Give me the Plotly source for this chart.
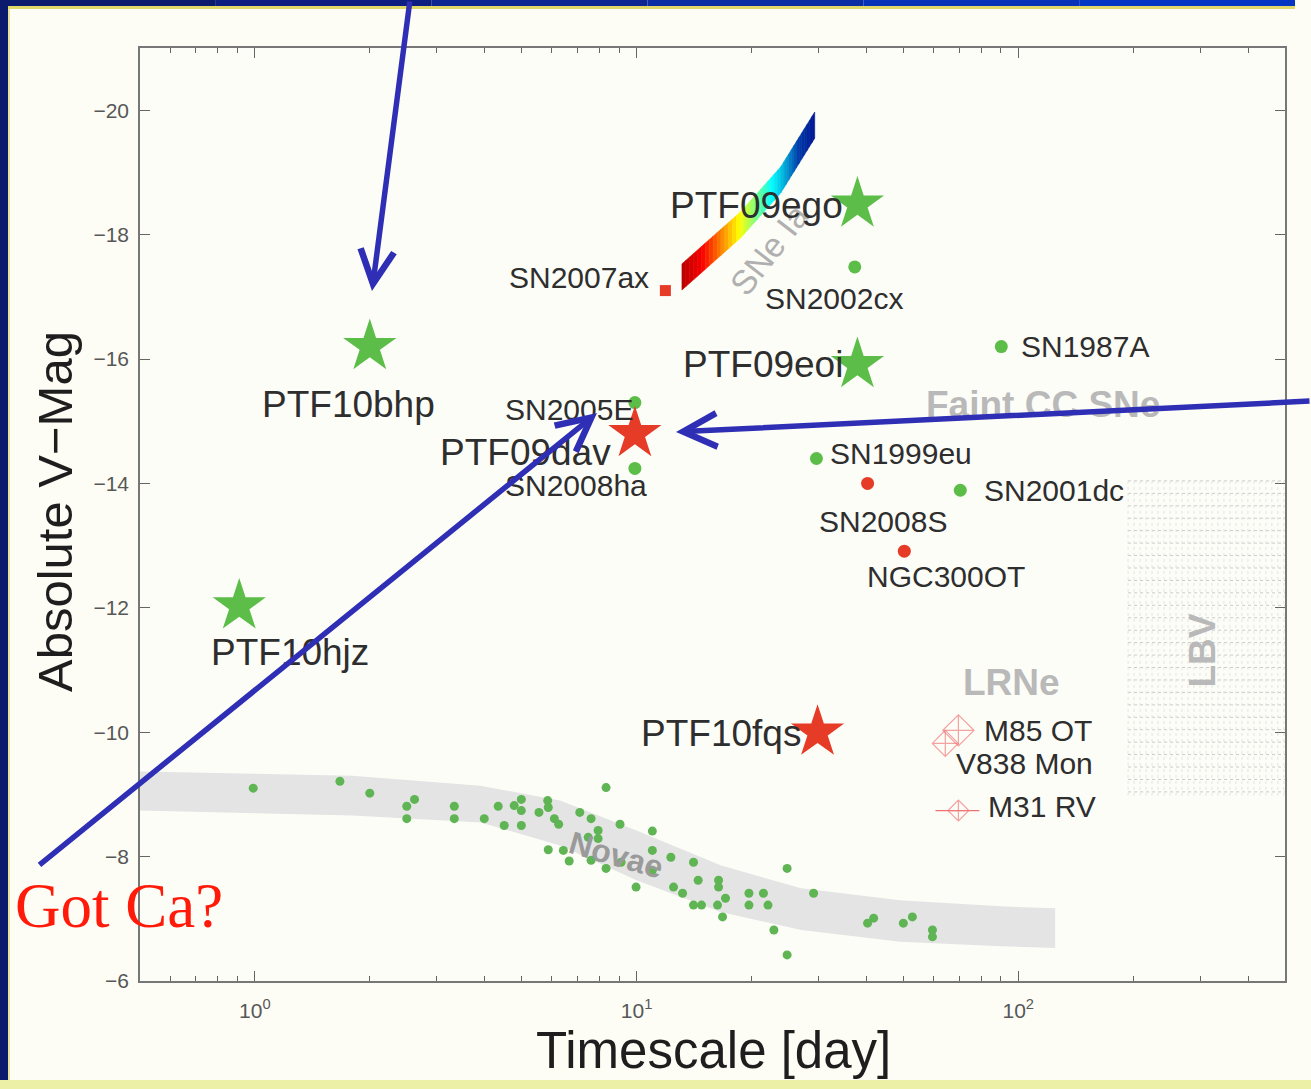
import numpy as np
import plotly.graph_objects as go
from plotly.colors import sample_colorscale

W, H = 1311, 1089
FONT = "Liberation Sans, Arial, Helvetica, sans-serif"

# ---------------- data ----------------
x_range_days = [0.5, 500]
y_range_mag = [-6, -21]
x_major_ticks = [1, 10, 100]
x_major_text = ["10<sup>0</sup>", "10<sup>1</sup>", "10<sup>2</sup>"]
x_minor_ticks = [0.6, 0.7, 0.8, 0.9, 2, 3, 4, 5, 6, 7, 8, 9,
                 20, 30, 40, 50, 60, 70, 80, 90, 200, 300, 400]
y_ticks = [-20, -18, -16, -14, -12, -10, -8, -6]

# novae (green dots)
nova_days = [0.99, 1.67, 2.00, 2.62, 2.50, 2.50, 3.33, 3.33, 3.99, 4.34, 4.50,
             4.78, 4.99, 4.99, 4.99, 5.55, 5.85, 5.87, 6.09, 6.25, 5.87, 6.43,
             6.66, 7.10, 7.60, 7.93, 7.47, 7.93, 9.05, 8.32, 7.60, 8.32, 9.11,
             11.0, 11.0, 11.0, 9.97, 12.3, 12.5, 13.2, 14.1, 14.5, 16.4, 16.4,
             17.1, 14.1, 14.8, 16.3, 16.8, 19.7, 21.5, 19.7, 22.1, 22.9, 24.8,
             24.8, 29.1, 40.3, 41.8, 50.0, 52.8, 59.6, 59.6]
nova_mags = [-9.10, -9.21, -9.02, -8.92, -8.81, -8.61, -8.81, -8.61, -8.61, -8.81, -8.50,
             -8.82, -8.92, -8.74, -8.50, -8.71, -8.90, -8.79, -8.61, -8.52, -8.11, -8.10,
             -7.93, -8.71, -8.61, -8.42, -8.31, -8.29, -8.52, -9.11, -7.94, -7.81, -7.91,
             -8.41, -8.10, -7.78, -7.51, -7.99, -7.51, -7.41, -7.91, -7.62, -7.62, -7.51,
             -7.33, -7.22, -7.22, -7.22, -7.03, -7.41, -7.41, -7.22, -7.22, -6.82, -7.81,
             -6.42, -7.41, -6.93, -7.01, -6.93, -7.03, -6.82, -6.71]

# novae envelope (grey band)
band_days = [0.5, 1.8, 3.9, 6.3, 10, 16.6, 27, 49, 90, 125]
band_bright = [-9.37, -9.30, -9.14, -8.90, -8.42, -7.86, -7.49, -7.30, -7.20, -7.17]
band_faint = [-8.74, -8.66, -8.55, -8.18, -7.62, -7.11, -6.82, -6.63, -6.56, -6.53]

# SNe Ia locus (rainbow strip), centre line
ia_days = [13.15, 18.76, 23.87, 29.29]
ia_mags = [-17.32, -18.16, -18.88, -19.76]
ia_half_width = 0.21

# PTF stars
green_star_names = ["PTF10bhp", "PTF10hjz", "PTF09ego", "PTF09eoi"]
green_star_days = [2.0, 0.91, 37.9, 37.9]
green_star_mags = [-16.2, -12.03, -18.49, -15.91]

red_star_names = ["PTF09dav", "PTF10fqs"]
red_star_days = [9.9, 29.8]
red_star_mags = [-14.8, -10.0]

# comparison objects
green_dot_names = ["SN2002cx", "SN2005E", "SN2008ha", "SN1987A", "SN1999eu", "SN2001dc"]
green_dot_days = [37.3, 9.9, 9.9, 90.3, 29.6, 70.5]
green_dot_mags = [-17.48, -15.30, -14.24, -16.2, -14.40, -13.89]

red_dot_names = ["SN2008S", "NGC300OT"]
red_dot_days = [40.3, 50.3]
red_dot_mags = [-14.0, -12.91]

square_names = ["SN2007ax"]
square_days = [11.9]
square_mags = [-17.1]

lrn_names = ["M85 OT", "V838 Mon", "M31 RV"]
lrn_days = [69.7, 64.4, 69.7]
lrn_mags = [-10.03, -9.82, -8.74]
lrn_err_lo = [0, 0, 9.0]
lrn_err_hi = [0, 0, 9.4]

# LBV region
lbv_days = [194, 500]
lbv_mags = [-14.04, -8.98]

# class labels: text, day, mag
class_labels = [
    ("SNe Ia", 22.2, -17.76),
    ("Faint CC SNe", 116, -15.27),
    ("LRNe", 95.9, -10.8),
    ("LBV", 304.6, -11.31),
    ("Novae", 8.84, -8.02),
]

# ---------------- styles ----------------
GREEN = "#5cbd49"
NOVA_GREEN = "#5fb453"
RED = "#e63b27"
TEXT = "#2e2e2e"
GREY_TXT = "#b9b9b9"
BG = "#fdfdf6"
BLUE = "#2f2fb5"

# label placement: name -> (xanchor, xshift px, yshift px, font size)
label_pos = {
    "PTF10bhp": ("center", -21, -58, 37),
    "PTF10hjz": ("center", 51, -47, 37),
    "PTF09ego": ("right", -12, -1, 37),
    "PTF09eoi": ("right", -12, 0, 37),
    "PTF09dav": ("right", -22, -19, 37),
    "PTF10fqs": ("right", -15, -1, 37),
    "SN2007ax": ("right", -14, 13, 30),
    "SN2002cx": ("center", -21, -32, 30),
    "SN2005E": ("right", 0, -7, 30),
    "SN2008ha": ("center", -59, -17, 30),
    "SN1987A": ("left", 18, 0, 30),
    "SN1999eu": ("left", 12, 5, 30),
    "SN2008S": ("center", 15, -38, 30),
    "SN2001dc": ("left", 22, 0, 30),
    "NGC300OT": ("center", 42, -25, 30),
    "M85 OT": ("left", 24, 0, 30),
    "V838 Mon": ("left", 9, -20, 30),
    "M31 RV": ("left", 28, 4, 30),
}
# class label styles: text -> (size, angle, color, bold)
class_style = {
    "SNe Ia": (34, -52, "#b0b0b0", False),
    "Faint CC SNe": (37, 0, GREY_TXT, True),
    "LRNe": (37, 0, GREY_TXT, True),
    "LBV": (37, -90, GREY_TXT, True),
    "Novae": (32, 16, "#9a9a9a", True),
}

fig = go.Figure()
lg = np.log10

# novae band
fig.add_trace(go.Scatter(
    x=band_days + band_days[::-1], y=band_bright + band_faint[::-1],
    fill="toself", fillcolor="#e4e4e4", line=dict(width=0), mode="lines",
    hoverinfo="skip"))

# LBV hatched region
lx0, lx1 = lg(lbv_days[0]), lg(lbv_days[1])
hx, hy = [], []
for m in np.arange(lbv_mags[0], lbv_mags[1] + 1e-6, 0.2):
    hx += [lbv_days[0], lbv_days[1], None]
    hy += [m, m, None]
fig.add_trace(go.Scatter(x=hx, y=hy, mode="lines", hoverinfo="skip",
                         line=dict(color="#c9c9c9", width=1, dash="dot")))
vx, vy = [], []
for lv in np.arange(lx0, lx1, 0.0157):
    vx += [10 ** lv, 10 ** lv, None]
    vy += [lbv_mags[0], lbv_mags[1], None]
fig.add_trace(go.Scatter(x=vx, y=vy, mode="lines", hoverinfo="skip",
                         line=dict(color="#e2e2e2", width=1, dash="dot")))

# SNe Ia rainbow strip
lx = lg(np.array(ia_days))
my = np.array(ia_mags)
seg_len = np.hypot(np.diff(lx), np.diff(my) / 5)
cum = np.concatenate([[0], np.cumsum(seg_len)])
N = 40
ts = np.linspace(0, cum[-1], N + 1)
px_ = np.interp(ts, cum, lx)
py_ = np.interp(ts, cum, my)
cols = sample_colorscale("Jet", list(np.linspace(0.9, 0.08, N)))
for i in range(N):
    xs = [10 ** px_[i], 10 ** px_[i + 1], 10 ** px_[i + 1], 10 ** px_[i], 10 ** px_[i]]
    ys = [py_[i] - ia_half_width, py_[i + 1] - ia_half_width,
          py_[i + 1] + ia_half_width, py_[i] + ia_half_width, py_[i] - ia_half_width]
    fig.add_trace(go.Scatter(x=xs, y=ys, fill="toself", fillcolor=cols[i],
                             line=dict(width=0.6, color=cols[i]), mode="lines",
                             hoverinfo="skip"))

# novae points
fig.add_trace(go.Scatter(x=nova_days, y=nova_mags, mode="markers",
                         marker=dict(color=NOVA_GREEN, size=9, line=dict(width=0))))

# comparison objects
fig.add_trace(go.Scatter(x=green_dot_days, y=green_dot_mags, mode="markers",
                         marker=dict(color=GREEN, size=13, line=dict(width=0))))
fig.add_trace(go.Scatter(x=red_dot_days, y=red_dot_mags, mode="markers",
                         marker=dict(color=RED, size=13, line=dict(width=0))))
fig.add_trace(go.Scatter(x=square_days, y=square_mags, mode="markers",
                         marker=dict(color=RED, size=11, symbol="square", line=dict(width=0))))
fig.add_trace(go.Scatter(
    x=lrn_days, y=lrn_mags, mode="markers",
    error_x=dict(type="data", symmetric=False, array=lrn_err_hi, arrayminus=lrn_err_lo,
                 color="#ee7070", thickness=1.2, width=0),
    marker=dict(color="#f07a7a", size=[24, 20, 16], symbol="diamond-cross-open",
                line=dict(width=1.2))))

# stars
fig.add_trace(go.Scatter(x=green_star_days, y=green_star_mags, mode="markers",
                         marker=dict(color=GREEN, size=40, symbol="star", line=dict(width=0))))
fig.add_trace(go.Scatter(x=red_star_days, y=red_star_mags, mode="markers",
                         marker=dict(color=RED, size=40, symbol="star", line=dict(width=0))))

# class labels (grey)
for text, day, mag in class_labels:
    size, angle, color, bold = class_style[text]
    fig.add_annotation(x=lg(day), y=mag, xref="x", yref="y",
                       text=("<b>%s</b>" % text) if bold else text,
                       showarrow=False, textangle=angle, xanchor="center", yanchor="middle",
                       font=dict(family=FONT, size=size, color=color))

# object labels
def put_labels(names, days, mags):
    for n, d, m in zip(names, days, mags):
        xa, dx, dy, fs = label_pos[n]
        fig.add_annotation(x=lg(d), y=m, xref="x", yref="y", text=n, showarrow=False,
                           xanchor=xa, yanchor="middle", xshift=dx, yshift=dy,
                           font=dict(family=FONT, size=fs, color=TEXT))

put_labels(green_dot_names, green_dot_days, green_dot_mags)
put_labels(red_dot_names, red_dot_days, red_dot_mags)
put_labels(square_names, square_days, square_mags)
put_labels(lrn_names, lrn_days, lrn_mags)
put_labels(green_star_names, green_star_days, green_star_mags)
put_labels(red_star_names, red_star_days, red_star_mags)

# axis titles
fig.add_annotation(x=55 / W, y=1 - 512 / H, xref="paper", yref="paper", text="Absolute V\u2212Mag",
                   textangle=-90, showarrow=False, xanchor="center", yanchor="middle",
                   font=dict(family=FONT, size=49, color="#1e1e1e"))
fig.add_annotation(x=713 / W, y=1 - 1050 / H, xref="paper", yref="paper", text="Timescale [day]",
                   showarrow=False, xanchor="center", yanchor="middle",
                   font=dict(family=FONT, size=51, color="#1e1e1e"))

# slide overlay: red question and blue arrows
fig.add_annotation(x=13 / W, y=1 - 906 / H, xref="paper", yref="paper", text="Got Ca?",
                   xanchor="left", yanchor="middle", showarrow=False,
                   font=dict(family="Liberation Serif, Times New Roman, serif", size=63, color="#ff1a0a"))

def arrow(head, tail):
    fig.add_annotation(x=head[0] / W, y=1 - head[1] / H, xref="paper", yref="paper",
                       ax=tail[0] - head[0], ay=tail[1] - head[1], text="", showarrow=True,
                       arrowhead=5, arrowsize=1.2, arrowwidth=5.5, arrowcolor=BLUE)

arrow((372, 291), (410, -6))
arrow((676, 432), (1320, 401))
arrow((597, 413), (38, 866))

# slide frame shapes
shapes = [
    dict(type="rect", xref="paper", yref="paper", x0=0, x1=8 / W, y0=0, y1=1,
         fillcolor="#0b1a6c", line=dict(width=0), layer="above"),
    dict(type="rect", xref="paper", yref="paper", x0=8 / W, x1=10 / W, y0=0, y1=1 - 8 / H,
         fillcolor="#e6e39a", line=dict(width=0), layer="above"),
    dict(type="rect", xref="paper", yref="paper", x0=0, x1=1, y0=0, y1=9 / H,
         fillcolor="#ecf0a6", line=dict(width=0), layer="above"),
    dict(type="rect", xref="paper", yref="paper", x0=8 / W, x1=1295 / W, y0=1 - 9 / H, y1=1 - 6 / H,
         fillcolor="#e2d86a", line=dict(width=0), layer="above"),
]
top_cols = ["#0b1a6c", "#0c1f80", "#0d2690", "#0b2da4", "#0833b8", "#0436c4"]
for i, c in enumerate(top_cols):
    shapes.append(dict(type="rect", xref="paper", yref="paper",
                       x0=i * 1295 / len(top_cols) / W, x1=(i + 1) * 1295 / len(top_cols) / W,
                       y0=1 - 6 / H, y1=1, fillcolor=c, line=dict(width=0), layer="above"))

axis_common = dict(showline=True, linecolor="#777777", linewidth=1.5, mirror="ticks",
                   ticks="inside", tickcolor="#666666", tickwidth=1.2, showgrid=False,
                   zeroline=False, tickfont=dict(family=FONT, size=21, color="#575757"))

fig.update_layout(
    width=W, height=H, autosize=False, margin=dict(l=0, r=0, t=0, b=0, autoexpand=False),
    paper_bgcolor=BG, plot_bgcolor="#fdfdf8", showlegend=False,
    shapes=shapes,
    xaxis=dict(type="log", range=[lg(x_range_days[0]), lg(x_range_days[1])],
               domain=[140 / W, 1285 / W], tickmode="array", tickvals=x_major_ticks,
               ticktext=x_major_text, ticklen=10, ticklabelstandoff=10,
               minor=dict(tickmode="array", tickvals=x_minor_ticks, ticks="inside",
                          ticklen=5, tickcolor="#666666", showgrid=False),
               **axis_common),
    yaxis=dict(range=y_range_mag, domain=[1 - 981 / H, 1 - 48 / H], tickmode="array",
               tickvals=y_ticks, ticklen=10, ticklabelstandoff=5, **axis_common),
)

fig.write_html("out.html",
               config={"displayModeBar": False, "responsive": False},
               post_script="document.body.style.margin='0px';document.body.style.overflow='hidden';")
